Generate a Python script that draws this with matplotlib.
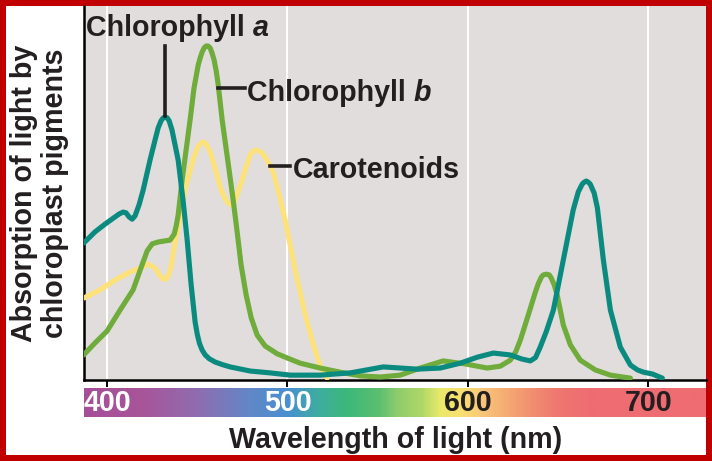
import numpy as np
import matplotlib
matplotlib.use("Agg")
import matplotlib.pyplot as plt
from matplotlib.colors import LinearSegmentedColormap
from matplotlib.patches import Rectangle

plt.rcParams['font.family'] = ['Liberation Sans', 'DejaVu Sans']

# wavelengths (nm) and relative absorption
chl_a_nm = [387, 393.3, 398.9, 404.4, 406.7, 408.9, 410.5, 412.2, 413.9, 415.5, 417.7, 420, 423.8,
            426.6, 428.3, 429.9, 431.1, 432.2, 433.3, 434.4, 436, 437.7, 439.4, 442.1, 444.4,
            446.6, 448.8, 450, 451.2, 452.7, 454.4, 456.6, 459.9, 464, 468.2, 479.3, 490.4, 501.5,
            518.1, 534.8, 553.1, 571.9, 584.7, 595.8, 605.2, 614.1, 623.5, 630, 634.6, 637.5,
            640.1, 643.5, 647.4, 652.9, 658.4, 661.2, 663.4, 664.5, 665.6, 666.7, 667.8, 670,
            671.8, 675.1, 679, 684.5, 690.1, 694, 697.3, 702.3, 707.8]
chl_a_abs = [0.366, 0.396, 0.417, 0.436, 0.444, 0.449, 0.447, 0.436, 0.430, 0.439, 0.468, 0.508,
             0.588, 0.642, 0.674, 0.693, 0.701, 0.703, 0.701, 0.693, 0.668, 0.628, 0.588, 0.481,
             0.374, 0.254, 0.155, 0.122, 0.098, 0.080, 0.067, 0.057, 0.048, 0.041, 0.035, 0.024,
             0.019, 0.013, 0.013, 0.019, 0.035, 0.029, 0.032, 0.045, 0.061, 0.072, 0.067, 0.056,
             0.051, 0.060, 0.088, 0.130, 0.187, 0.321, 0.455, 0.503, 0.524, 0.529, 0.532, 0.529,
             0.524, 0.500, 0.460, 0.321, 0.187, 0.088, 0.040, 0.027, 0.021, 0.016, 0.005]

chl_b_nm = [387, 393.3, 400, 407.2, 414.4, 420, 422.2, 425, 428.3, 432.2, 434.9, 437.2, 438.3,
            439.4, 441.6, 443.8, 446, 448.2, 450.5, 451.6, 452.7, 453.8, 454.9, 456, 457.1, 458.2,
            459.3, 460.5, 461.6, 463.8, 467.1, 469.9, 472.1, 474.3, 477.1, 479.9, 483.2, 487.6,
            494.3, 499.8, 507, 518.1, 529.2, 540.3, 551.4, 562.5, 573.6, 586.3, 598.5, 610.7,
            618, 623.5, 626.5, 629.1, 633.5, 637.4, 639, 640.7, 641.8, 643.5, 645.1, 646.2, 647.9,
            649.6, 652.9, 656.8, 662.3, 670.6, 679, 690.1]
chl_b_abs = [0.067, 0.099, 0.131, 0.187, 0.241, 0.316, 0.345, 0.364, 0.369, 0.372, 0.374, 0.390,
             0.412, 0.441, 0.535, 0.615, 0.695, 0.781, 0.842, 0.861, 0.877, 0.888, 0.893, 0.893,
             0.888, 0.874, 0.856, 0.826, 0.789, 0.695, 0.580, 0.481, 0.396, 0.307, 0.227, 0.166,
             0.120, 0.091, 0.070, 0.059, 0.045, 0.032, 0.021, 0.011, 0.008, 0.013, 0.032, 0.051,
             0.043, 0.032, 0.037, 0.053, 0.075, 0.107, 0.174, 0.235, 0.257, 0.275, 0.281, 0.283,
             0.281, 0.273, 0.254, 0.225, 0.147, 0.094, 0.053, 0.027, 0.013, 0.005]

car_nm = [387, 396.1, 404.4, 412.8, 418.3, 422.7, 426.6, 429.4, 431.1, 432.7, 434.4, 435.5, 437.7,
          440.5, 443.8, 447.7, 449.4, 451, 452.1, 453.2, 454.4, 455.5, 457.1, 458.2, 460.5, 463.2,
          466, 467.7, 468.8, 469.9, 471.5, 474.3, 476.5, 479.3, 481, 482.7, 484.3, 486, 487.6,
          488.7, 492.1, 495.4, 498.7, 501.5, 504.3, 507, 509.8, 513.1, 516.5, 519.2, 522]
car_abs = [0.219, 0.241, 0.267, 0.289, 0.299, 0.310, 0.299, 0.278, 0.270, 0.270, 0.285, 0.305,
           0.366, 0.436, 0.521, 0.588, 0.612, 0.628, 0.634, 0.636, 0.634, 0.626, 0.610, 0.594,
           0.556, 0.508, 0.479, 0.471, 0.468, 0.471, 0.487, 0.527, 0.561, 0.602, 0.612, 0.615,
           0.612, 0.607, 0.596, 0.588, 0.556, 0.495, 0.428, 0.361, 0.294, 0.235, 0.176, 0.115,
           0.061, 0.027, 0.005]

ticks = [400, 500, 600, 700]

xmin, xmax = 387.2, 732

# visible spectrum colour stops for the bar
spec_nm = [xmin, 420, 450, 480, 500, 518, 533, 551, 561, 575, 585, 596, 608, 619, 635, 651, 670, xmax]
spec_col = ['#a54f98', '#a8559a', '#8f6db0', '#5f88c8', '#4a90d2', '#3dae9c', '#3cb87a', '#5cbf70',
            '#8fcc6c', '#b0d868', '#eaea6a', '#f8e070', '#f8c87a', '#f6b074', '#f29070', '#ef7670',
            '#ee6c72', '#ee6c72']

ink = '#231f20'

fig = plt.figure(figsize=(7.12, 4.61), dpi=100)
fig.patch.set_facecolor('#c00000')
fig.add_artist(Rectangle((6 / 712, 6 / 461), 700 / 712, 449 / 461, transform=fig.transFigure,
                         facecolor='white', edgecolor='none', zorder=-5))

ax = fig.add_axes([84 / 712, 81 / 461, 622 / 712, 374 / 461])
ax.set_facecolor('#e1dddc')
ax.set_xlim(xmin, xmax)
ax.set_ylim(0, 1)
for t in ticks:
    ax.axvline(t, color='white', lw=1.4, zorder=1)

style = dict(lw=3.7, solid_capstyle='round', solid_joinstyle='round')
ax.plot(car_nm, car_abs, color='#fde27c', zorder=3, **style)
ax.plot(chl_b_nm, chl_b_abs, color='#6fac3b', zorder=4, **style)
ax.plot(chl_a_nm, chl_a_abs, color='#0b8a80', zorder=5, **style)

for s in ['top', 'right']:
    ax.spines[s].set_visible(False)
for s in ['left', 'bottom']:
    ax.spines[s].set_linewidth(1.8)
    ax.spines[s].set_color('black')
ax.set_yticks([])
ax.set_xticks(ticks)
ax.set_xticklabels([])
ax.tick_params(axis='x', direction='out', length=5, width=1.4, color='black')

# labels with leader lines
fs = 20.6
ax.plot([432.2, 432.2], [0.893, 0.706], color=ink, lw=2.6, zorder=6)
ax.plot([461.6, 476.5], [0.781, 0.781], color=ink, lw=2.6, zorder=6)
ax.plot([490.4, 501.5], [0.572, 0.572], color=ink, lw=2.6, zorder=6)


def label(x, y, main, ital):
    t = ax.text(x, y, main, fontsize=fs, fontweight='bold', color=ink, ha='left', va='bottom', zorder=7)
    if ital:
        ax.annotate(ital, xy=(1, 0), xycoords=t, fontsize=fs, fontweight='bold', style='italic',
                    color=ink, ha='left', va='bottom', zorder=7)


label(388.4, 0.905, 'Chlorophyll ', 'a')
label(477.6, 0.731, 'Chlorophyll ', 'b')
label(503.2, 0.525, 'Carotenoids', None)

# spectrum bar
bar = fig.add_axes([84 / 712, 44 / 461, 622 / 712, 29 / 461])
cmap = LinearSegmentedColormap.from_list(
    'spec', [((n - xmin) / (xmax - xmin), c) for n, c in zip(spec_nm, spec_col)])
bar.imshow(np.linspace(0, 1, 600)[None, :], aspect='auto', cmap=cmap,
           extent=[xmin, xmax, 0, 1])
bar.set_xlim(xmin, xmax)
bar.set_ylim(0, 1)
bar.axis('off')
for t in ticks:
    bar.text(t, 0.5, str(t), fontsize=fs, fontweight='bold', ha='center', va='center',
             color='white' if t < 550 else ink)

fig.text(396 / 712, 13 / 461, 'Wavelength of light (nm)', fontsize=fs, fontweight='bold',
         color=ink, ha='center', va='baseline')
fig.text(24 / 712, 268 / 461, 'Absorption of light by', fontsize=fs, fontweight='bold',
         color=ink, rotation=90, ha='center', va='center')
fig.text(55 / 712, 268 / 461, 'chloroplast pigments', fontsize=fs, fontweight='bold',
         color=ink, rotation=90, ha='center', va='center')

fig.savefig('out.png', dpi=100, facecolor=fig.get_facecolor())
